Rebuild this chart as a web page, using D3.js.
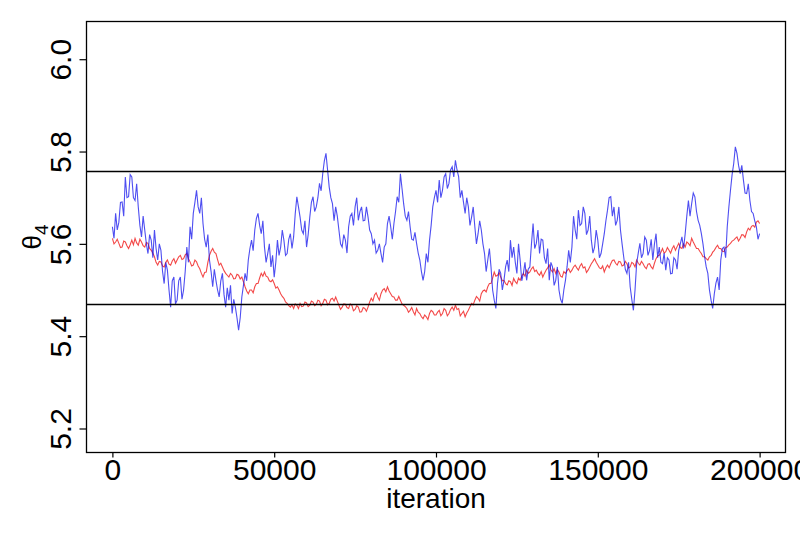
<!DOCTYPE html>
<html>
<head>
<meta charset="utf-8">
<script src="https://cdn.jsdelivr.net/npm/d3@7"></script>
<style>
  html, body { margin: 0; padding: 0; background: #fff; }
  svg text { font-family: "Liberation Sans", Arial, sans-serif; fill: #000; }
</style>
</head>
<body>
<svg id="chart" width="800" height="533"></svg>
<script>
// ---- data ----
// samples at whole thousands of iterations
const iterK = [
  0,1,2,3,4,5,6,7,8,9,10,11,12,13,14,15,16,17,18,19,20,21,22,23,24,25,26,27,28,29,
  30,31,32,33,34,35,36,37,38,39,40,41,42,43,44,45,46,47,48,49,50,51,52,53,54,55,56,57,58,59,
  60,61,62,63,64,65,66,67,68,69,70,71,72,73,74,75,76,77,78,79,80,81,82,83,84,85,86,87,88,89,
  90,91,92,93,94,95,96,97,98,99,100,101,102,103,104,105,106,107,108,109,110,111,112,113,114,115,116,117,118,119,
  120,121,122,123,124,125,126,127,128,129,130,131,132,133,134,135,136,137,138,139,140,141,142,143,144,145,146,147,148,149,
  150,151,152,153,154,155,156,157,158,159,160,161,162,163,164,165,166,167,168,169,170,171,172,173,174,175,176,177,178,179,
  180,181,182,183,184,185,186,187,188,189,190,191,192,193,194,195,196,197,198,199,200
];
// samples half-way between (thousands of iterations)
const iterHalfK = [
  0.5,1.5,2.5,3.5,4.5,5.5,6.5,7.5,8.5,9.5,10.5,11.5,12.5,13.5,14.5,15.5,16.5,17.5,18.5,19.5,
  20.5,21.5,22.5,23.5,24.5,25.5,26.5,27.5,28.5,29.5,30.5,31.5,32.5,33.5,34.5,35.5,36.5,37.5,38.5,39.5,
  40.5,41.5,42.5,43.5,44.5,45.5,46.5,47.5,48.5,49.5,50.5,51.5,52.5,53.5,54.5,55.5,56.5,57.5,58.5,59.5,
  60.5,61.5,62.5,63.5,64.5,65.5,66.5,67.5,68.5,69.5,70.5,71.5,72.5,73.5,74.5,75.5,76.5,77.5,78.5,79.5,
  80.5,81.5,82.5,83.5,84.5,85.5,86.5,87.5,88.5,89.5,90.5,91.5,92.5,93.5,94.5,95.5,96.5,97.5,98.5,99.5,
  100.5,101.5,102.5,103.5,104.5,105.5,106.5,107.5,108.5,109.5,110.5,111.5,112.5,113.5,114.5,115.5,116.5,117.5,118.5,119.5,
  120.5,121.5,122.5,123.5,124.5,125.5,126.5,127.5,128.5,129.5,130.5,131.5,132.5,133.5,134.5,135.5,136.5,137.5,138.5,139.5,
  140.5,141.5,142.5,143.5,144.5,145.5,146.5,147.5,148.5,149.5,150.5,151.5,152.5,153.5,154.5,155.5,156.5,157.5,158.5,159.5,
  160.5,161.5,162.5,163.5,164.5,165.5,166.5,167.5,168.5,169.5,170.5,171.5,172.5,173.5,174.5,175.5,176.5,177.5,178.5,179.5,
  180.5,181.5,182.5,183.5,184.5,185.5,186.5,187.5,188.5,189.5,190.5,191.5,192.5,193.5,194.5,195.5,196.5,197.5,198.5,199.5
];
const blueChain = [
  5.637,5.666,5.647,5.691,5.745,5.702,5.745,5.694,5.680,5.615,5.630,5.579,5.608,5.630,5.565,5.586,5.514,5.543,5.463,5.528,
  5.478,5.528,5.500,5.593,5.637,5.666,5.716,5.666,5.644,5.593,5.565,5.507,5.521,5.485,5.536,5.463,5.478,5.449,5.463,5.413,
  5.485,5.536,5.565,5.608,5.630,5.666,5.622,5.593,5.579,5.550,5.528,5.608,5.593,5.608,5.579,5.622,5.615,5.702,5.658,5.622,
  5.593,5.658,5.702,5.680,5.731,5.752,5.796,5.723,5.687,5.680,5.630,5.593,5.608,5.637,5.666,5.680,5.651,5.680,5.651,5.658,
  5.622,5.608,5.586,5.579,5.593,5.644,5.637,5.644,5.702,5.752,5.687,5.651,5.637,5.608,5.601,5.565,5.521,5.579,5.608,5.680,
  5.716,5.738,5.716,5.752,5.731,5.767,5.781,5.745,5.716,5.666,5.680,5.658,5.637,5.622,5.630,5.579,5.565,5.550,5.478,5.514,
  5.536,5.521,5.565,5.608,5.593,5.536,5.565,5.536,5.521,5.550,5.644,5.601,5.579,5.608,5.557,5.521,5.550,5.521,5.500,5.471,
  5.521,5.586,5.593,5.630,5.673,5.644,5.666,5.630,5.608,5.593,5.608,5.579,5.622,5.673,5.702,5.680,5.651,5.630,5.572,5.536,
  5.507,5.456,5.557,5.601,5.579,5.608,5.586,5.565,5.622,5.593,5.557,5.543,5.565,5.536,5.565,5.586,5.615,5.622,5.694,5.687,
  5.702,5.651,5.622,5.572,5.536,5.478,5.492,5.528,5.565,5.593,5.637,5.716,5.774,5.796,5.752,5.738,5.709,5.694,5.666,5.637,
  5.622
];
const blueHalf = [
  5.612,5.630,5.690,5.660,5.700,5.750,5.700,5.730,5.640,5.660,5.600,5.620,5.570,5.590,5.600,5.540,5.560,5.500,5.520,5.470,
  5.520,5.480,5.540,5.560,5.610,5.690,5.680,5.700,5.610,5.620,5.540,5.545,5.500,5.520,5.490,5.505,5.510,5.480,5.440,5.440,
  5.510,5.520,5.590,5.585,5.655,5.640,5.650,5.560,5.600,5.575,5.560,5.575,5.630,5.575,5.610,5.590,5.665,5.680,5.630,5.650,
  5.620,5.690,5.670,5.700,5.715,5.780,5.760,5.700,5.650,5.660,5.600,5.620,5.580,5.660,5.640,5.700,5.670,5.650,5.680,5.630,
  5.600,5.580,5.600,5.560,5.600,5.660,5.610,5.670,5.690,5.720,5.660,5.670,5.610,5.625,5.580,5.540,5.540,5.560,5.640,5.700,
  5.690,5.700,5.745,5.720,5.760,5.745,5.760,5.700,5.690,5.700,5.640,5.680,5.600,5.650,5.600,5.540,5.590,5.500,5.460,5.545,
  5.500,5.550,5.540,5.570,5.560,5.600,5.520,5.560,5.545,5.600,5.590,5.630,5.610,5.570,5.590,5.560,5.510,5.550,5.480,5.500,
  5.550,5.560,5.660,5.610,5.640,5.680,5.620,5.660,5.580,5.630,5.570,5.600,5.650,5.700,5.660,5.640,5.680,5.600,5.545,5.560,
  5.480,5.500,5.580,5.570,5.615,5.575,5.610,5.600,5.570,5.560,5.580,5.570,5.535,5.570,5.545,5.600,5.590,5.660,5.660,5.710,
  5.670,5.640,5.600,5.550,5.500,5.460,5.515,5.500,5.590,5.570,5.680,5.750,5.810,5.770,5.770,5.710,5.730,5.670,5.650,5.610
];
const redChain = [
  5.612,5.604,5.601,5.593,5.604,5.590,5.608,5.612,5.597,5.604,5.593,5.601,5.586,5.572,5.554,5.561,5.550,5.565,5.554,5.568,
  5.565,5.575,5.568,5.579,5.561,5.554,5.561,5.546,5.528,5.539,5.575,5.590,5.579,5.554,5.550,5.536,5.528,5.532,5.525,5.532,
  5.528,5.507,5.492,5.500,5.507,5.514,5.536,5.539,5.528,5.518,5.514,5.507,5.492,5.482,5.471,5.463,5.460,5.467,5.471,5.465,
  5.472,5.467,5.474,5.469,5.476,5.471,5.478,5.471,5.482,5.485,5.467,5.463,5.469,5.460,5.467,5.458,5.463,5.453,5.460,5.463,
  5.482,5.489,5.485,5.492,5.503,5.507,5.492,5.485,5.478,5.478,5.467,5.460,5.456,5.453,5.460,5.449,5.438,5.442,5.449,5.453,
  5.446,5.456,5.449,5.456,5.449,5.463,5.467,5.460,5.449,5.442,5.456,5.471,5.478,5.482,5.492,5.500,5.507,5.514,5.539,5.532,
  5.528,5.521,5.511,5.518,5.525,5.514,5.521,5.536,5.543,5.539,5.550,5.543,5.532,5.528,5.543,5.554,5.539,5.536,5.539,5.528,
  5.536,5.546,5.543,5.554,5.543,5.557,5.550,5.543,5.557,5.568,5.554,5.546,5.539,5.554,5.557,5.565,5.554,5.561,5.554,5.557,
  5.550,5.557,5.565,5.554,5.557,5.546,5.557,5.546,5.568,5.575,5.590,5.583,5.586,5.590,5.586,5.601,5.590,5.593,5.601,5.612,
  5.597,5.590,5.579,5.572,5.565,5.575,5.586,5.597,5.590,5.583,5.593,5.601,5.608,5.615,5.612,5.619,5.626,5.630,5.640,5.647,
  5.644
];
const redHalf = [
  5.600,5.610,5.592,5.606,5.596,5.598,5.598,5.602,5.610,5.596,5.603,5.590,5.580,5.560,5.562,5.552,5.560,5.556,5.563,5.558,
  5.572,5.566,5.576,5.568,5.552,5.565,5.552,5.536,5.538,5.560,5.584,5.582,5.566,5.558,5.542,5.532,5.536,5.524,5.534,5.524,
  5.518,5.498,5.500,5.494,5.514,5.526,5.530,5.530,5.520,5.522,5.504,5.500,5.486,5.474,5.466,5.468,5.470,5.460,5.464,5.474,
  5.464,5.476,5.466,5.478,5.466,5.480,5.468,5.480,5.476,5.476,5.458,5.470,5.462,5.470,5.455,5.466,5.452,5.462,5.454,5.474,
  5.476,5.494,5.478,5.500,5.496,5.498,5.486,5.478,5.486,5.470,5.464,5.452,5.462,5.446,5.452,5.442,5.446,5.436,5.456,5.446,
  5.452,5.444,5.460,5.444,5.458,5.456,5.458,5.444,5.454,5.450,5.464,5.468,5.486,5.476,5.498,5.496,5.514,5.526,5.530,5.538,
  5.520,5.514,5.520,5.510,5.518,5.526,5.530,5.530,5.536,5.546,5.540,5.536,5.540,5.536,5.548,5.544,5.546,5.544,5.530,5.540,
  5.542,5.538,5.550,5.548,5.552,5.548,5.538,5.550,5.562,5.560,5.548,5.552,5.548,5.548,5.564,5.558,5.562,5.552,5.562,5.548,
  5.560,5.550,5.558,5.562,5.550,5.556,5.550,5.558,5.574,5.582,5.580,5.592,5.580,5.596,5.594,5.592,5.600,5.604,5.596,5.604,
  5.590,5.584,5.572,5.568,5.572,5.582,5.592,5.590,5.584,5.592,5.598,5.606,5.612,5.606,5.620,5.614,5.634,5.638,5.636,5.650
];
const refLines = [5.7567, 5.4686];
const xTicks = [0, 50000, 100000, 150000, 200000];
const yTicks = [5.2, 5.4, 5.6, 5.8, 6.0];

// ---- layout ----
const svg = d3.select("#chart");
const L = 86.5, R = 785.5, T = 21.5, B = 452.5;
const x = d3.scaleLinear().domain([-8000, 208000]).range([L, R]);
const y = d3.scaleLinear().domain([5.148, 6.0817]).range([B, T]);

function merge(whole, half) {
  const pts = [];
  iterK.forEach((k, i) => {
    pts.push([k, whole[i]]);
    if (i < half.length) pts.push([iterHalfK[i], half[i]]);
  });
  return pts;
}

// chains
const line = d3.line().x(d => x(d[0] * 1000)).y(d => y(d[1]));
svg.append("path")
  .attr("d", line(merge(redChain, redHalf)))
  .attr("fill", "none").attr("stroke", "rgba(240,20,20,0.78)").attr("stroke-width", 1.1);
svg.append("path")
  .attr("d", line(merge(blueChain, blueHalf)))
  .attr("fill", "none").attr("stroke", "rgba(10,10,235,0.72)").attr("stroke-width", 1.1);

// reference lines
svg.selectAll("line.ref").data(refLines).enter().append("line")
  .attr("class", "ref")
  .attr("x1", L).attr("x2", R)
  .attr("y1", d => y(d)).attr("y2", d => y(d))
  .attr("stroke", "#000").attr("stroke-width", 1.3);

// box
svg.append("rect").attr("x", L).attr("y", T).attr("width", R - L).attr("height", B - T)
  .attr("fill", "none").attr("stroke", "#000").attr("stroke-width", 1.3);

// x axis
const xAxis = svg.append("g").attr("transform", `translate(0,${B})`)
  .call(d3.axisBottom(x).tickValues(xTicks).tickSize(5).tickSizeOuter(0).tickPadding(3).tickFormat(d3.format("d")));
xAxis.select(".domain").remove();
xAxis.selectAll("line").attr("stroke", "#000").attr("stroke-width", 1.2);
xAxis.selectAll("text").attr("font-size", 30).attr("dy", null).attr("y", 27)
  .style("font-family", "'Liberation Sans', Arial, sans-serif");

// y axis
const yAxis = svg.append("g").attr("transform", `translate(${L},0)`)
  .call(d3.axisLeft(y).tickValues(yTicks).tickSize(7).tickSizeOuter(0).tickFormat(d3.format(".1f")));
yAxis.select(".domain").remove();
yAxis.selectAll("line").attr("stroke", "#000").attr("stroke-width", 1.2);
yAxis.selectAll("text").remove();
yAxis.selectAll("g.tick").append("text")
  .attr("transform", "translate(-16,0) rotate(-90)")
  .attr("text-anchor", "middle")
  .attr("font-size", 30)
  .style("font-family", "'Liberation Sans', Arial, sans-serif")
  .text(d => d3.format(".1f")(d));

// axis titles
svg.append("text").attr("x", (L + R) / 2).attr("y", 508)
  .attr("text-anchor", "middle").attr("font-size", 28).text("iteration");

const yl = svg.append("text")
  .attr("transform", `translate(41,${(T + B) / 2}) rotate(-90)`)
  .attr("text-anchor", "middle").attr("font-size", 26);
yl.append("tspan").text("θ");
yl.append("tspan").attr("font-size", 19).attr("dy", 7).text("4");
</script>
</body>
</html>
